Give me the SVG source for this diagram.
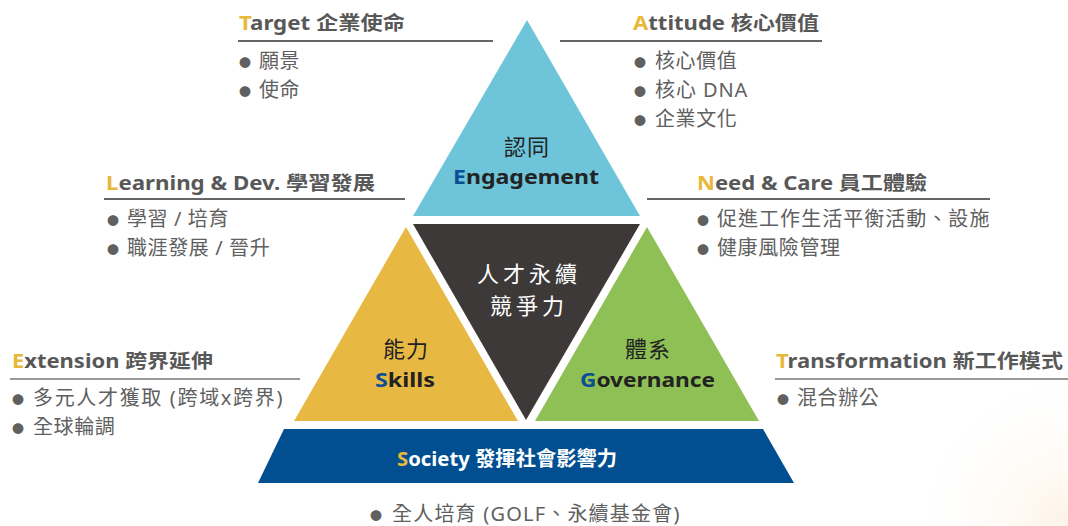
<svg xmlns="http://www.w3.org/2000/svg" width="1068" height="526" viewBox="0 0 1068 526">
<defs>
<radialGradient id="glow" cx="1068" cy="526" r="160" gradientUnits="userSpaceOnUse">
<stop offset="0" stop-color="#FBE3C4" stop-opacity="0.45"/>
<stop offset="1" stop-color="#FFFFFF" stop-opacity="0"/>
</radialGradient>
<style>
.h{font-family:"Noto Sans","Noto Sans CJK TC",sans-serif;font-weight:700;font-size:19px;fill:#585858}
.g{fill:#E8B83A}
.b{font-family:"Noto Sans","Noto Sans CJK TC",sans-serif;font-size:20px;fill:#606060;letter-spacing:0.6px}
.dot{font-size:12px}
.rule{stroke:#333;stroke-width:1.3}
.rule2{stroke:#777;stroke-width:1.5}
.c{font-family:"Noto Sans CJK TC","Noto Sans",sans-serif;font-size:22px;text-anchor:middle;letter-spacing:1px}
.w{font-size:22px;letter-spacing:4px}
.e{font-family:"Noto Sans","Noto Sans CJK TC",sans-serif;font-weight:700;font-size:20px;fill:#222}
.nv{fill:#0A4F93}
</style>
</defs>
<rect x="0" y="0" width="1068" height="526" fill="#FFFFFF"/>
<rect x="850" y="350" width="218" height="176" fill="url(#glow)"/>

<g id="engagement">
<polygon points="527,20 640,216 413,216" fill="#6EC5D9"/>
<text class="c" x="527" y="155" fill="#222">認同</text>
<text class="e" x="453" y="184" textLength="146" lengthAdjust="spacingAndGlyphs"><tspan class="nv">E</tspan>ngagement</text>
</g>

<g id="core">
<polygon points="413,224 640,224 526,420" fill="#3D3938"/>
<text class="c w" x="529" y="282" fill="#FFFFFF">人才永續</text>
<text class="c w" x="529" y="314" fill="#FFFFFF">競爭力</text>
</g>

<g id="skills">
<polygon points="406,227 518,421 294,421" fill="#E8B942"/>
<text class="c" x="406" y="357" fill="#222">能力</text>
<text class="e" x="375" y="387" textLength="60" lengthAdjust="spacingAndGlyphs"><tspan class="nv">S</tspan>kills</text>
</g>

<g id="governance">
<polygon points="647,227 759,421 535,421" fill="#8FC055"/>
<text class="c" x="648" y="357" fill="#222">體系</text>
<text class="e" x="580" y="387" textLength="135" lengthAdjust="spacingAndGlyphs"><tspan class="nv">G</tspan>overnance</text>
</g>

<g id="society">
<polygon points="284,429 763,429 794,483 258,483" fill="#014F91"/>
<text class="h" x="397" y="466" textLength="220" lengthAdjust="spacingAndGlyphs" style="fill:#FFFFFF;font-size:20px"><tspan class="g">S</tspan>ociety 發揮社會影響力</text>
<text class="b" x="370" y="521"><tspan class="dot">●</tspan><tspan x="392" textLength="288" lengthAdjust="spacing">全人培育 (GOLF、永續基金會)</tspan></text>
</g>

<g id="target">
<text class="h" x="239" y="30" textLength="166" lengthAdjust="spacingAndGlyphs"><tspan class="g">T</tspan>arget 企業使命</text>
<line class="rule" x1="238" y1="41" x2="493" y2="41"/>
<text class="b" x="239" y="68"><tspan class="dot">●</tspan><tspan x="259">願景</tspan></text>
<text class="b" x="239" y="97"><tspan class="dot">●</tspan><tspan x="259">使命</tspan></text>
</g>

<g id="attitude">
<text class="h" x="633" y="30" textLength="186" lengthAdjust="spacingAndGlyphs"><tspan class="g">A</tspan>ttitude 核心價值</text>
<line class="rule" x1="560" y1="41" x2="822" y2="41"/>
<text class="b" x="634" y="68"><tspan class="dot">●</tspan><tspan x="655">核心價值</tspan></text>
<text class="b" x="634" y="97"><tspan class="dot">●</tspan><tspan x="655" textLength="93" lengthAdjust="spacing">核心 DNA</tspan></text>
<text class="b" x="634" y="126"><tspan class="dot">●</tspan><tspan x="655">企業文化</tspan></text>
</g>

<g id="learning">
<text class="h" x="106" y="190" textLength="269" lengthAdjust="spacingAndGlyphs"><tspan class="g">L</tspan>earning &amp; Dev. 學習發展</text>
<line class="rule" x1="104" y1="199" x2="405" y2="199"/>
<text class="b" x="107" y="226"><tspan class="dot">●</tspan><tspan x="127">學習 / 培育</tspan></text>
<text class="b" x="107" y="255"><tspan class="dot">●</tspan><tspan x="127">職涯發展 / 晉升</tspan></text>
</g>

<g id="need">
<text class="h" x="697" y="190" textLength="230" lengthAdjust="spacingAndGlyphs"><tspan class="g">N</tspan>eed &amp; Care 員工體驗</text>
<line class="rule" x1="647" y1="199" x2="990" y2="199"/>
<text class="b" x="697" y="226"><tspan class="dot">●</tspan><tspan x="717" textLength="273" lengthAdjust="spacing">促進工作生活平衡活動、設施</tspan></text>
<text class="b" x="697" y="255"><tspan class="dot">●</tspan><tspan x="717">健康風險管理</tspan></text>
</g>

<g id="extension">
<text class="h" x="12" y="368" textLength="201" lengthAdjust="spacingAndGlyphs"><tspan class="g">E</tspan>xtension 跨界延伸</text>
<line class="rule2" x1="10" y1="379" x2="300" y2="379"/>
<text class="b" x="12" y="405"><tspan class="dot">●</tspan><tspan x="33" textLength="250" lengthAdjust="spacing">多元人才獲取 (跨域x跨界)</tspan></text>
<text class="b" x="12" y="434"><tspan class="dot">●</tspan><tspan x="33">全球輪調</tspan></text>
</g>

<g id="transformation">
<text class="h" x="776" y="368" textLength="287" lengthAdjust="spacingAndGlyphs"><tspan class="g">T</tspan>ransformation 新工作模式</text>
<line class="rule2" x1="775" y1="379" x2="1068" y2="379"/>
<text class="b" x="777" y="405"><tspan class="dot">●</tspan><tspan x="797">混合辦公</tspan></text>
</g>

<g id="connectors"></g>
</svg>
